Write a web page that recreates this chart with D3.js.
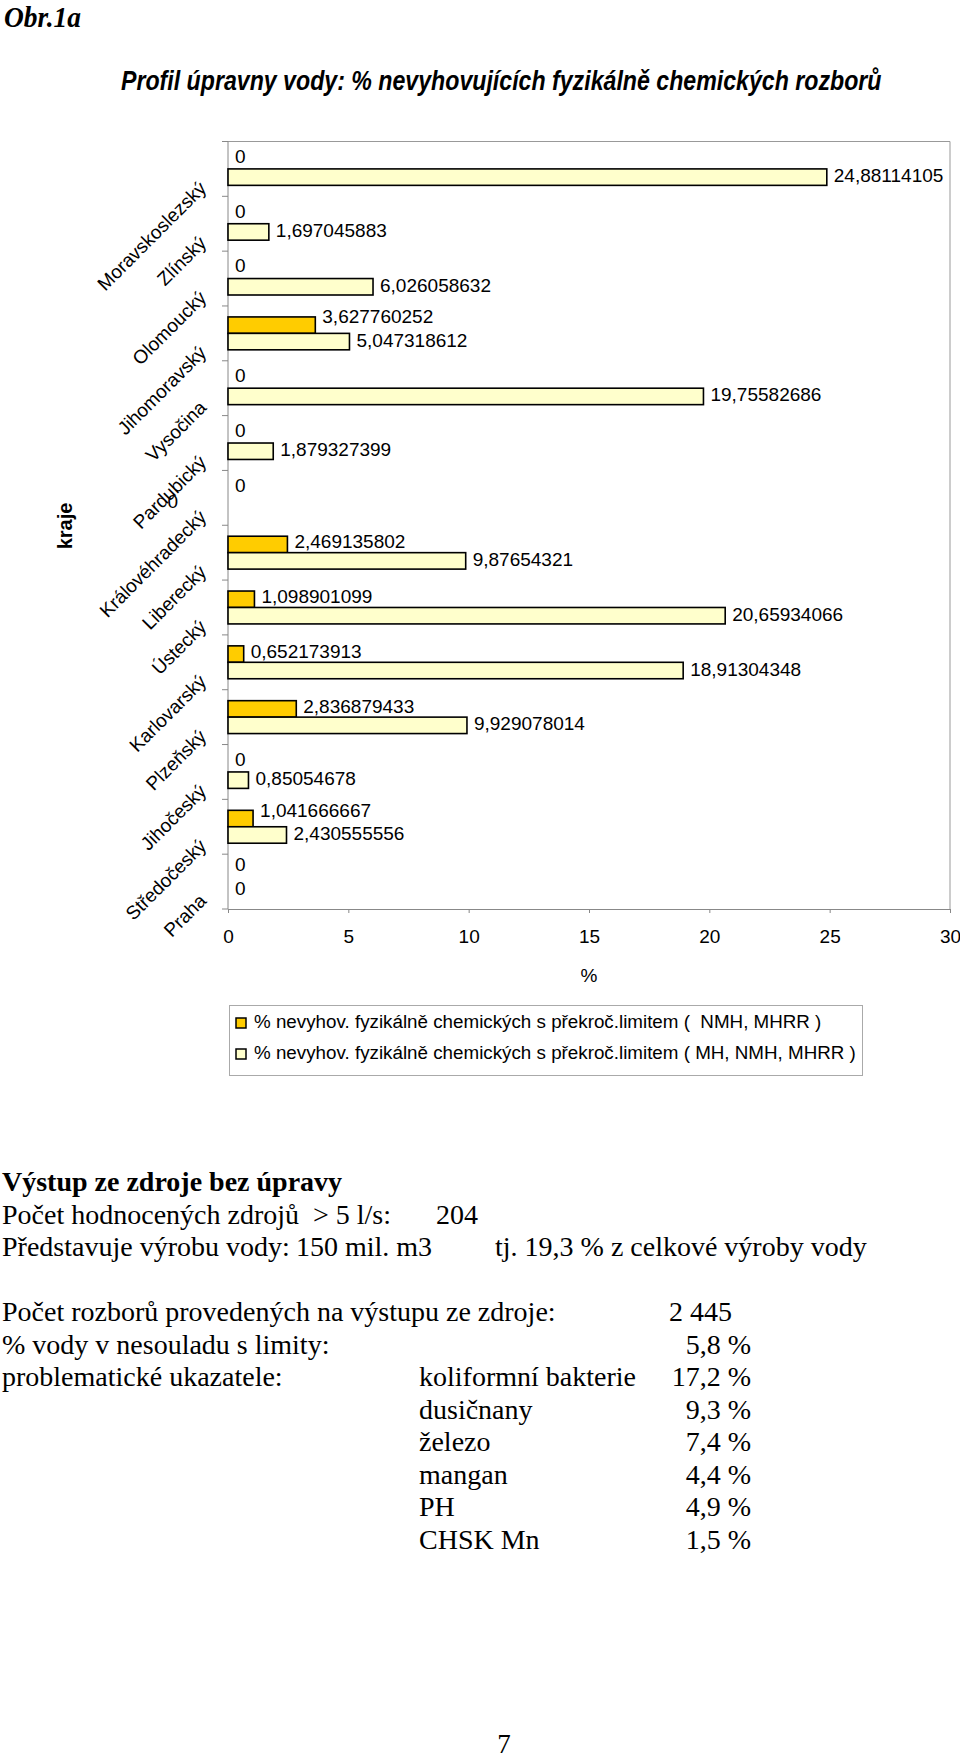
<!DOCTYPE html>
<html>
<head>
<meta charset="utf-8">
<script src="https://cdn.jsdelivr.net/npm/d3@7"></script>
<style>
  html, body { margin: 0; padding: 0; background: #fff; }
  svg { display: block; }
  text { white-space: pre; }
</style>
</head>
<body>
<script>
// ---------- data ----------
const categories = ["Moravskoslezský","Zlínský","Olomoucký","Jihomoravský","Vysočina","Pardubický","Královéhradecký","Liberecký","Ústecký","Karlovarský","Plzeňský","Jihočeský","Středočeský","Praha"];
const seriesNames = [
  "% nevyhov. fyzikálně chemických s překroč.limitem (  NMH, MHRR )",
  "% nevyhov. fyzikálně chemických s překroč.limitem ( MH, NMH, MHRR )"
];
const valuesNMH = [0, 0, 0, 3.627760252, 0, 0, 0, 2.469135802, 1.098901099, 0.652173913, 2.836879433, 0, 1.041666667, 0];
// null = value missing in source (label "0" shown left of axis in the original)
const valuesMH = [24.88114105, 1.697045883, 6.026058632, 5.047318612, 19.75582686, 1.879327399, null, 9.87654321, 20.65934066, 18.91304348, 9.929078014, 0.85054678, 2.430555556, 0];
const xTicks = [0, 5, 10, 15, 20, 25, 30];
const colors = ["#FFCC00", "#FFFFCC"];

const W = 960, H = 1762;
const svg = d3.select("body").append("svg").attr("width", W).attr("height", H);
svg.append("rect").attr("width", W).attr("height", H).attr("fill", "#fff");

const SANS = "'Liberation Sans', Arial, sans-serif";
const SERIF = "'Liberation Serif', 'Times New Roman', serif";

// condensed text helper: scale horizontally to a target width
function condensed(sel, x0, y0, targetW) {
  const len = sel.node().getComputedTextLength();
  const sx = Math.min(1, targetW / len);
  sel.attr("x", 0).attr("y", 0).attr("transform", `translate(${x0},${y0}) scale(${sx},1)`);
}

// header
condensed(svg.append("text")
  .attr("font-family", SERIF).attr("font-style", "italic").attr("font-weight", "bold")
  .attr("font-size", 29).text("Obr.1a"), 4, 27, 77);
condensed(svg.append("text")
  .attr("font-family", SANS).attr("font-style", "italic").attr("font-weight", "bold")
  .attr("font-size", 27).text("Profil úpravny vody: % nevyhovujících fyzikálně chemických rozborů"), 121, 90, 761);

// ---------- chart ----------
const plot = {left: 228, right: 950, top: 141.5, bottom: 909};
const x = d3.scaleLinear().domain([0, 30]).range([plot.left, plot.right]);
const y = d3.scaleBand().domain(categories).range([plot.top, plot.bottom]).padding(0);
const bw = y.bandwidth();
const bh = bw * 0.3;
const gap = (bw - 2 * bh) / 2;

const g = svg.append("g");

// plot-area border (top/right)
g.append("path")
  .attr("d", `M${plot.left},${plot.top}H${plot.right}V${plot.bottom}`)
  .attr("fill", "none").attr("stroke", "#999").attr("stroke-width", 1);

// x axis
const xAxis = g.append("g").attr("transform", `translate(0,${plot.bottom})`)
  .call(d3.axisBottom(x).tickValues(xTicks).tickSize(4).tickSizeOuter(0).tickPadding(17));
xAxis.select(".domain").attr("stroke", "#888");
xAxis.selectAll(".tick line").attr("stroke", "#888");
xAxis.selectAll(".tick text").attr("font-family", SANS).attr("font-size", 19).attr("fill", "#000");

// y axis line + ticks at band boundaries
g.append("line").attr("x1", plot.left).attr("x2", plot.left)
  .attr("y1", plot.top).attr("y2", plot.bottom).attr("stroke", "#888");
const boundaries = categories.map(c => y(c)).concat([plot.bottom]);
g.selectAll(".ytick").data(boundaries).join("line")
  .attr("x1", plot.left - 6).attr("x2", plot.left)
  .attr("y1", d => d).attr("y2", d => d).attr("stroke", "#888");

// category labels rotated -45
g.selectAll(".cat").data(categories).join("text")
  .attr("transform", d => `translate(${plot.left - 24},${y(d) + bw / 2 + 17}) rotate(-45)`)
  .attr("text-anchor", "end").attr("dominant-baseline", "middle")
  .attr("font-family", SANS).attr("font-size", 19)
  .text(d => d);

// axis titles
svg.append("text")
  .attr("transform", `translate(72,526) rotate(-90)`)
  .attr("text-anchor", "middle")
  .attr("font-family", SANS).attr("font-weight", "bold").attr("font-size", 20)
  .text("kraje");
svg.append("text").attr("x", (plot.left + plot.right) / 2).attr("y", 982)
  .attr("text-anchor", "middle").attr("font-family", SANS).attr("font-size", 19)
  .text("%");

// bars
const rowsNMH = categories.map((c, i) => ({c, v: valuesNMH[i], other: valuesMH[i]}));
const rowsMH = categories.map((c, i) => ({c, v: valuesMH[i]}));
const fmt = v => String(v).replace(".", ",");

g.selectAll(".barA").data(rowsNMH.filter(d => d.v > 0)).join("rect")
  .attr("x", x(0)).attr("y", d => y(d.c) + gap)
  .attr("width", d => x(d.v) - x(0)).attr("height", bh)
  .attr("fill", colors[0]).attr("stroke", "#000").attr("stroke-width", 1.6);
g.selectAll(".barB").data(rowsMH.filter(d => d.v > 0)).join("rect")
  .attr("x", x(0)).attr("y", d => y(d.c) + gap + bh)
  .attr("width", d => x(d.v) - x(0)).attr("height", bh)
  .attr("fill", colors[1]).attr("stroke", "#000").attr("stroke-width", 1.6);

// data labels
const lblA = g.selectAll(".lblA").data(rowsNMH).join("text")
  .attr("x", d => x(d.v) + 7)
  .attr("dominant-baseline", "middle")
  .attr("font-family", SANS).attr("font-size", 19)
  .text(d => fmt(d.v));
// shift up more when the label runs over the label of the other series
lblA.attr("y", function(d) {
  const end = x(d.v) + 7 + this.getComputedTextLength();
  let shift = d.v === 0 ? -3 : -1;
  if (d.other !== null && end > x(d.other) + 7) shift = -7;
  return y(d.c) + gap + bh / 2 + shift;
});
g.selectAll(".lblB").data(rowsMH).join("text")
  .attr("x", d => d.v === null ? x(0) - 50 : x(d.v) + 7)
  .attr("y", d => y(d.c) + gap + bh * 1.5 - (d.v === null ? 3 : 0))
  .attr("text-anchor", d => d.v === null ? "end" : "start")
  .attr("dominant-baseline", "middle")
  .attr("font-family", SANS).attr("font-size", 19)
  .text(d => d.v === null ? "0" : fmt(d.v));

// legend
const lg = svg.append("g");
lg.append("rect").attr("x", 229.5).attr("y", 1005.5).attr("width", 633).attr("height", 70)
  .attr("fill", "#fff").attr("stroke", "#aaa").attr("stroke-width", 1);
seriesNames.forEach((s, i) => {
  const cy = 1023 + i * 31;
  lg.append("rect").attr("x", 236).attr("y", cy - 5).attr("width", 10).attr("height", 10)
    .attr("fill", colors[i]).attr("stroke", "#000").attr("stroke-width", 1.5);
  lg.append("text").attr("x", 254).attr("y", cy).attr("dominant-baseline", "middle")
    .attr("font-family", SANS).attr("font-size", 18.8).text(s);
});

// ---------- text below ----------
const infoLines = [
  [{t: "Výstup ze zdroje bez úpravy", x: 2, b: true}],
  [{t: "Počet hodnocených zdrojů  > 5 l/s:", x: 2}, {t: "204", x: 436}],
  [{t: "Představuje výrobu vody:", x: 2}, {t: "150 mil. m3", x: 296}, {t: "tj. 19,3 % z celkové výroby vody", x: 495}],
  [],
  [{t: "Počet rozborů provedených na výstupu ze zdroje:", x: 2}, {t: "2 445", x: 669}],
  [{t: "% vody v nesouladu s limity:", x: 2}, {t: "5,8 %", x: 751, r: true}],
  [{t: "problematické ukazatele:", x: 2}, {t: "koliformní bakterie", x: 419}, {t: "17,2 %", x: 751, r: true}],
  [{t: "dusičnany", x: 419}, {t: "9,3 %", x: 751, r: true}],
  [{t: "železo", x: 419}, {t: "7,4 %", x: 751, r: true}],
  [{t: "mangan", x: 419}, {t: "4,4 %", x: 751, r: true}],
  [{t: "PH", x: 419}, {t: "4,9 %", x: 751, r: true}],
  [{t: "CHSK Mn", x: 419}, {t: "1,5 %", x: 751, r: true}]
];
const tg = svg.append("g").attr("font-family", SERIF).attr("font-size", 28);
infoLines.forEach((line, i) => {
  const by = 1191 + i * 32.5;
  line.forEach(p => {
    tg.append("text").attr("x", p.x).attr("y", by)
      .attr("text-anchor", p.r ? "end" : "start")
      .attr("font-weight", p.b ? "bold" : "normal")
      .text(p.t);
  });
});
svg.append("text").attr("x", 504).attr("y", 1753).attr("text-anchor", "middle")
  .attr("font-family", SERIF).attr("font-size", 27).text("7");
</script>
</body>
</html>
